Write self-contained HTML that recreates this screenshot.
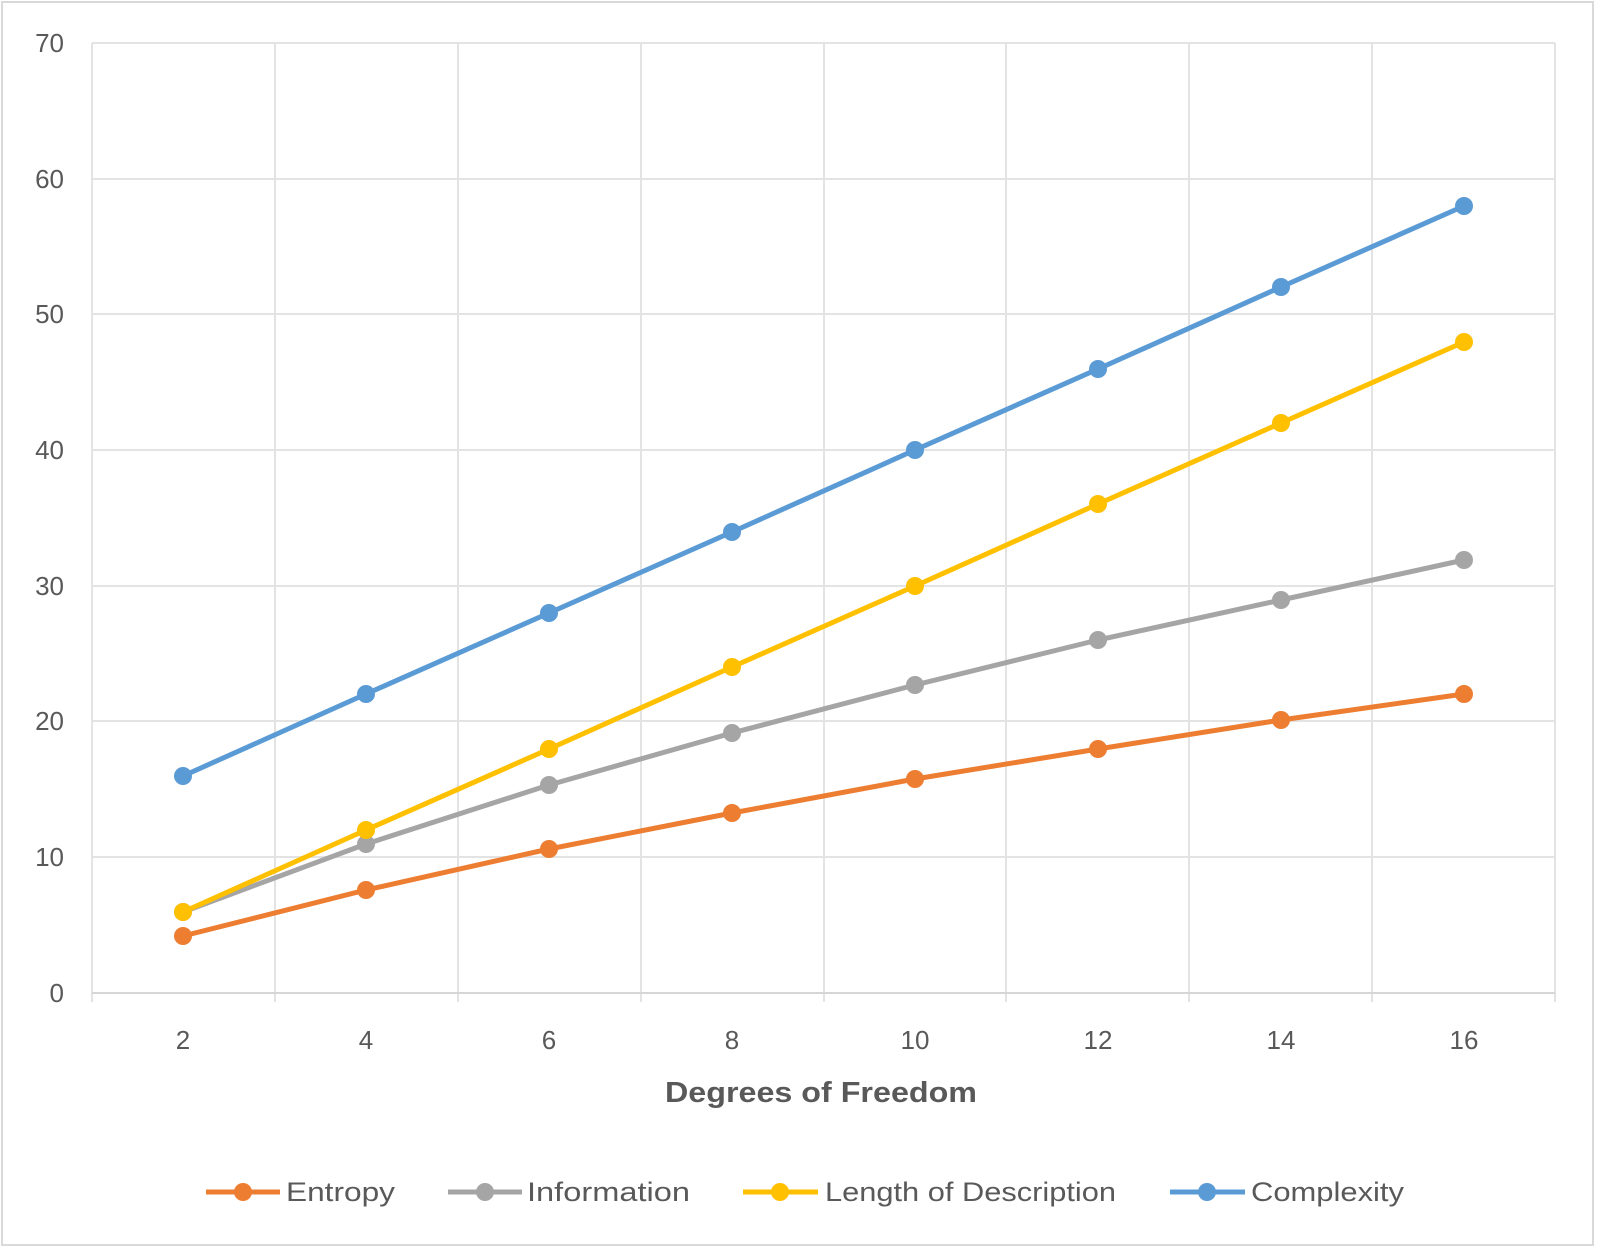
<!DOCTYPE html>
<html><head><meta charset="utf-8"><style>html,body{margin:0;padding:0;background:#fff}</style></head>
<body>
<svg width="1597" height="1248" xmlns="http://www.w3.org/2000/svg" font-family="Liberation Sans, sans-serif">
<rect x="0" y="0" width="1597" height="1248" fill="#fff"/>
<rect x="2" y="2" width="1591" height="1243" fill="none" stroke="#d9d9d9" stroke-width="2"/>
<g stroke="#e3e3e3" stroke-width="2" fill="none">
<line x1="92" y1="43" x2="1555" y2="43"/>
<line x1="92" y1="179" x2="1555" y2="179"/>
<line x1="92" y1="314" x2="1555" y2="314"/>
<line x1="92" y1="450" x2="1555" y2="450"/>
<line x1="92" y1="586" x2="1555" y2="586"/>
<line x1="92" y1="721" x2="1555" y2="721"/>
<line x1="92" y1="857" x2="1555" y2="857"/>
<line x1="92" y1="43" x2="92" y2="1002"/>
<line x1="275" y1="43" x2="275" y2="1002"/>
<line x1="458" y1="43" x2="458" y2="1002"/>
<line x1="641" y1="43" x2="641" y2="1002"/>
<line x1="824" y1="43" x2="824" y2="1002"/>
<line x1="1006" y1="43" x2="1006" y2="1002"/>
<line x1="1189" y1="43" x2="1189" y2="1002"/>
<line x1="1372" y1="43" x2="1372" y2="1002"/>
<line x1="1555" y1="43" x2="1555" y2="1002"/>
</g>
<line x1="92" y1="993" x2="1555" y2="993" stroke="#d6d6d6" stroke-width="2"/>
<g fill="#595959" font-size="26" text-anchor="end">
<text x="64" y="52">70</text><text x="64" y="188">60</text><text x="64" y="323">50</text>
<text x="64" y="459">40</text><text x="64" y="595">30</text><text x="64" y="730">20</text>
<text x="64" y="866">10</text><text x="64" y="1002">0</text>
</g>
<g fill="#595959" font-size="26" text-anchor="middle">
<text x="183" y="1049">2</text><text x="366" y="1049">4</text><text x="549" y="1049">6</text>
<text x="732" y="1049">8</text><text x="915" y="1049">10</text><text x="1098" y="1049">12</text>
<text x="1281" y="1049">14</text><text x="1464" y="1049">16</text>
</g>
<text x="665" y="1102" font-size="29" font-weight="bold" fill="#595959" textLength="312" lengthAdjust="spacingAndGlyphs">Degrees of Freedom</text>
<g fill="none" stroke-width="5" stroke-linejoin="round">
<polyline stroke="#ed7d31" points="183,936 366,890 549,849 732,813 915,779 1098,749 1281,720 1464,694"/>
<polyline stroke="#a5a5a5" points="183,912 366,844 549,785 732,733 915,685 1098,640 1281,600 1464,560"/>
<polyline stroke="#ffc000" points="183,912 366,830 549,749 732,667 915,586 1098,504 1281,423 1464,342"/>
<polyline stroke="#5b9bd5" points="183,776 366,694 549,613 732,532 915,450 1098,369 1281,287 1464,206"/>
</g>
<g fill="#ed7d31"><circle cx="183" cy="936" r="9"/><circle cx="366" cy="890" r="9"/><circle cx="549" cy="849" r="9"/><circle cx="732" cy="813" r="9"/><circle cx="915" cy="779" r="9"/><circle cx="1098" cy="749" r="9"/><circle cx="1281" cy="720" r="9"/><circle cx="1464" cy="694" r="9"/></g>
<g fill="#a5a5a5"><circle cx="183" cy="912" r="9"/><circle cx="366" cy="844" r="9"/><circle cx="549" cy="785" r="9"/><circle cx="732" cy="733" r="9"/><circle cx="915" cy="685" r="9"/><circle cx="1098" cy="640" r="9"/><circle cx="1281" cy="600" r="9"/><circle cx="1464" cy="560" r="9"/></g>
<g fill="#ffc000"><circle cx="183" cy="912" r="9"/><circle cx="366" cy="830" r="9"/><circle cx="549" cy="749" r="9"/><circle cx="732" cy="667" r="9"/><circle cx="915" cy="586" r="9"/><circle cx="1098" cy="504" r="9"/><circle cx="1281" cy="423" r="9"/><circle cx="1464" cy="342" r="9"/></g>
<g fill="#5b9bd5"><circle cx="183" cy="776" r="9"/><circle cx="366" cy="694" r="9"/><circle cx="549" cy="613" r="9"/><circle cx="732" cy="532" r="9"/><circle cx="915" cy="450" r="9"/><circle cx="1098" cy="369" r="9"/><circle cx="1281" cy="287" r="9"/><circle cx="1464" cy="206" r="9"/></g>
<g stroke-width="5">
<line x1="206" y1="1192" x2="280" y2="1192" stroke="#ed7d31"/><circle cx="243" cy="1192" r="9" fill="#ed7d31"/>
<line x1="448" y1="1192" x2="522" y2="1192" stroke="#a5a5a5"/><circle cx="485" cy="1192" r="9" fill="#a5a5a5"/>
<line x1="743" y1="1192" x2="818" y2="1192" stroke="#ffc000"/><circle cx="780" cy="1192" r="9" fill="#ffc000"/>
<line x1="1170" y1="1192" x2="1245" y2="1192" stroke="#5b9bd5"/><circle cx="1207" cy="1192" r="9" fill="#5b9bd5"/>
</g>
<g fill="#595959" font-size="27">
<text x="286" y="1201" textLength="109" lengthAdjust="spacingAndGlyphs">Entropy</text>
<text x="527" y="1201" textLength="163" lengthAdjust="spacingAndGlyphs">Information</text>
<text x="825" y="1201" textLength="291" lengthAdjust="spacingAndGlyphs">Length of Description</text>
<text x="1251" y="1201" textLength="153" lengthAdjust="spacingAndGlyphs">Complexity</text>
</g>
</svg>
</body></html>
